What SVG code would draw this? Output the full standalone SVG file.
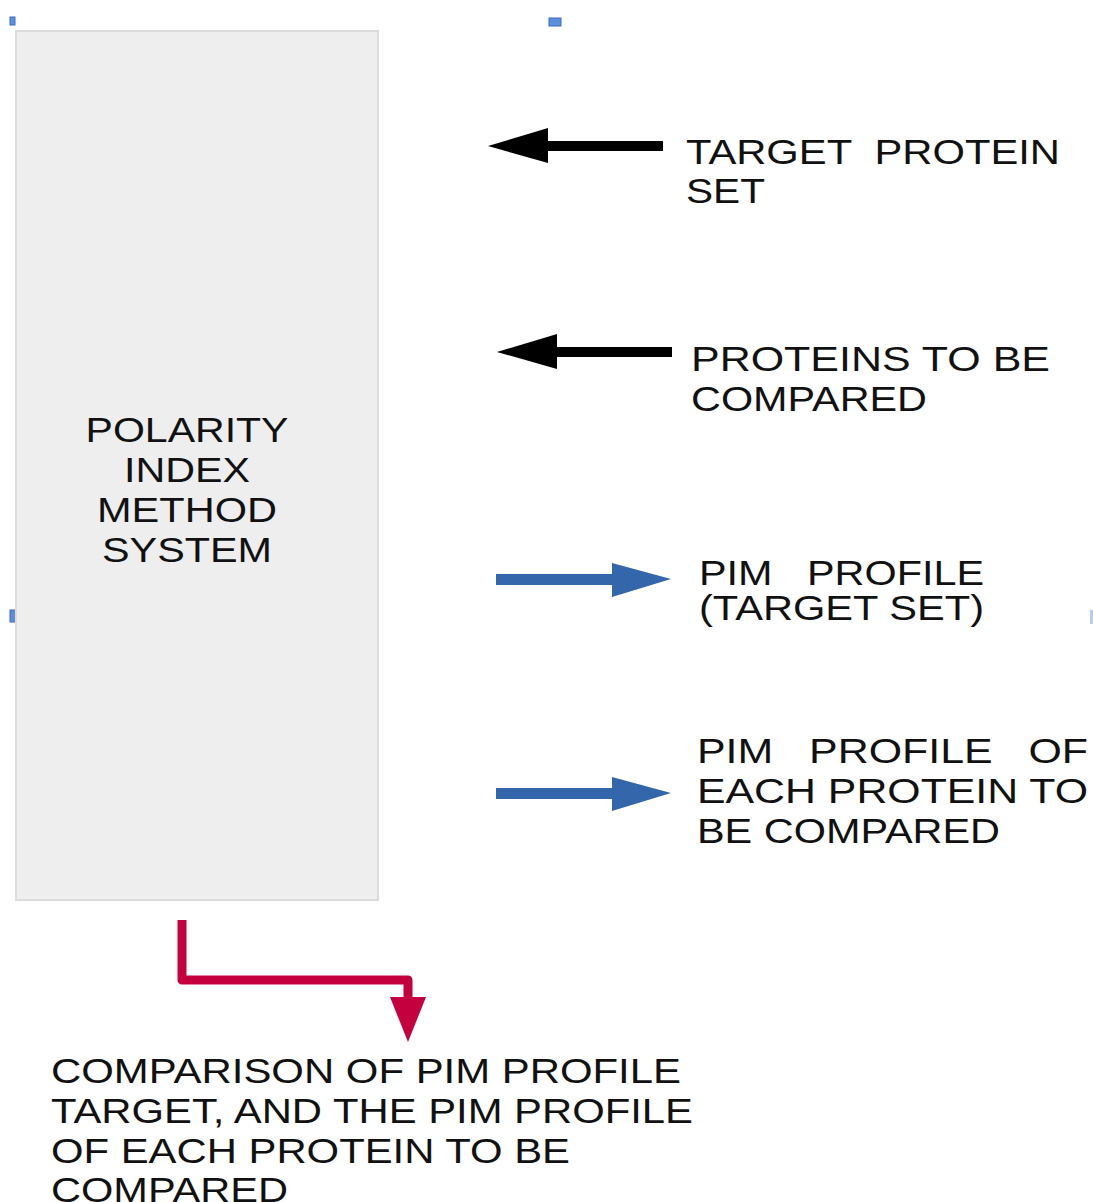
<svg xmlns="http://www.w3.org/2000/svg" width="1093" height="1202" viewBox="0 0 1093 1202">
<style>
text{font-family:"Liberation Sans",Arial,sans-serif;font-size:35px;fill:#111;white-space:pre;}
.h{fill:#5b8fe0;stroke:#3b6cc0;stroke-width:1;}
</style>
<rect width="1093" height="1202" fill="#fff"/>
<g id="handles">
<rect class="h" x="10" y="17" width="5" height="8"/>
<rect class="h" x="549" y="18" width="12" height="8"/>
<rect class="h" x="10" y="610" width="6" height="12"/>
<rect x="1090" y="610" width="3" height="14" fill="#b8cdf0"/>
</g>
<g id="pim-system">
<rect x="16" y="31" width="362" height="869" fill="#eeeeee" stroke="#dcdcdc" stroke-width="2"/>
<text x="187" y="442" text-anchor="middle" textLength="203" lengthAdjust="spacingAndGlyphs">POLARITY</text>
<text x="187" y="482" text-anchor="middle" textLength="126" lengthAdjust="spacingAndGlyphs">INDEX</text>
<text x="187" y="522" text-anchor="middle" textLength="180" lengthAdjust="spacingAndGlyphs">METHOD</text>
<text x="187" y="562" text-anchor="middle" textLength="170" lengthAdjust="spacingAndGlyphs">SYSTEM</text>
</g>
<g id="target-set">
<text x="686" y="164" textLength="374" lengthAdjust="spacingAndGlyphs" xml:space="preserve">TARGET  PROTEIN</text>
<text x="686" y="203" textLength="79" lengthAdjust="spacingAndGlyphs">SET</text>
</g>
<g id="proteins-compared">
<text x="691" y="371" textLength="359" lengthAdjust="spacingAndGlyphs">PROTEINS TO BE</text>
<text x="691" y="411" textLength="236" lengthAdjust="spacingAndGlyphs">COMPARED</text>
</g>
<g id="pim-target">
<text x="699" y="585" font-size="34" textLength="285" lengthAdjust="spacingAndGlyphs" xml:space="preserve">PIM   PROFILE</text>
<text x="699" y="620" font-size="34" textLength="285" lengthAdjust="spacingAndGlyphs">(TARGET SET)</text>
</g>
<g id="pim-each">
<text x="697" y="763" textLength="391" lengthAdjust="spacingAndGlyphs" xml:space="preserve">PIM   PROFILE   OF</text>
<text x="697" y="803" textLength="391" lengthAdjust="spacingAndGlyphs">EACH PROTEIN TO</text>
<text x="697" y="843" textLength="303" lengthAdjust="spacingAndGlyphs">BE COMPARED</text>
</g>
<g id="comparison">
<text x="51" y="1083" textLength="630" lengthAdjust="spacingAndGlyphs">COMPARISON OF PIM PROFILE</text>
<text x="51" y="1123" textLength="642" lengthAdjust="spacingAndGlyphs">TARGET, AND THE PIM PROFILE</text>
<text x="51" y="1163" textLength="519" lengthAdjust="spacingAndGlyphs">OF EACH PROTEIN TO BE</text>
<text x="51" y="1202" textLength="237" lengthAdjust="spacingAndGlyphs">COMPARED</text>
</g>
<g id="connectors">
<path d="M663,141 H548 V128 L488,146 L548,163 V151 H663 Z" fill="#000"/>
<path d="M672,347 H557 V334 L497,352 L557,369 V357 H672 Z" fill="#000"/>
<path d="M496,574 H612 V563 L671,579 L612,597 V585 H496 Z" fill="#3366aa"/>
<path d="M496,788 H612 V777 L671,793 L612,811 V799 H496 Z" fill="#3366aa"/>
<path d="M182,920 V980 H408 V1000" fill="none" stroke="#c4003f" stroke-width="9" stroke-linejoin="round"/>
<polygon points="390,997 426,997 408,1042" fill="#c4003f"/>
</g>
</svg>
